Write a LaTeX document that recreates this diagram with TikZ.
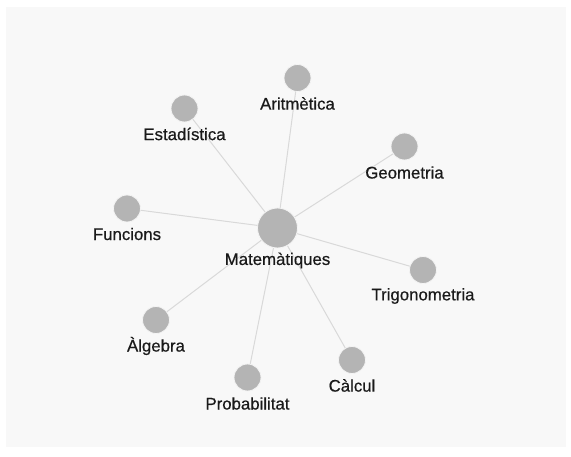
\documentclass[tikz,border=0pt]{standalone}
\usepackage{fontspec}
\setmainfont{Liberation Sans}
\newfontfamily\labelfont[FakeBold=0.5]{Liberation Sans}
\usetikzlibrary{backgrounds}
\definecolor{bgpanel}{HTML}{F8F8F8}
\definecolor{dotfill}{HTML}{B4B4B4}
\definecolor{edgecol}{HTML}{D9D9D9}
\definecolor{txtcol}{HTML}{1A1A1A}
\tikzset{
  dot/.style={circle, fill=dotfill, draw=white!85!dotfill, line width=0.8pt, minimum size=27pt, inner sep=0pt},
  bigdot/.style={dot, minimum size=40pt},
  lbl/.style={text=txtcol, inner sep=0pt, font=\labelfont\fontsize{16.8}{19}\selectfont},
  edge/.style={draw=edgecol, line width=1pt}
}
\begin{document}
\begin{tikzpicture}[x=1pt,y=-1pt]
\useasboundingbox (0,0) rectangle (571,457);
\node[bigdot] (m) at (277.5,228) {};
\node[lbl] (mL) at (277.5,260.5) {Matemàtiques};
\node[dot] (a) at (297.5,78) {};
\node[lbl] (aL) at (297.5,103.5) {Aritmètica};
\node[dot] (e) at (184.5,108.5) {};
\node[lbl] (eL) at (184.5,134) {Estadística};
\node[dot] (g) at (404.5,146.5) {};
\node[lbl] (gL) at (404.5,172.5) {Geometria};
\node[dot] (f) at (127,208.5) {};
\node[lbl] (fL) at (127,234) {Funcions};
\node[dot] (t) at (423,270) {};
\node[lbl] (tL) at (423,296) {Trigonometria};
\node[dot] (al) at (156,320) {};
\node[lbl] (alL) at (156,346) {Àlgebra};
\node[dot] (c) at (352,360) {};
\node[lbl] (cL) at (352,385.5) {Càlcul};
\node[dot] (p) at (247.5,377.5) {};
\node[lbl] (pL) at (247.5,403.5) {Probabilitat};
\begin{scope}[on background layer]
  \fill[bgpanel] (6,7) rectangle (566,447);
  \foreach \n in {a,e,g,f,t,al,c,p}
    \draw[edge] (m.center) -- (\n.center);
\end{scope}
\end{tikzpicture}
\end{document}
